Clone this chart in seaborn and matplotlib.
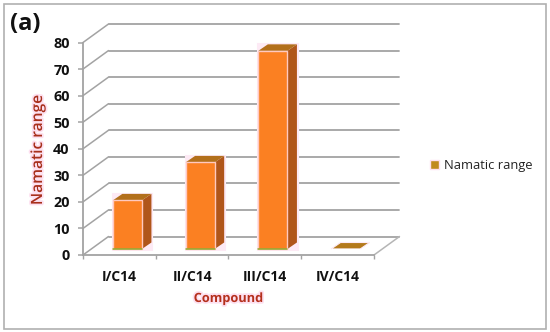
import matplotlib
matplotlib.use("Agg")
import matplotlib.pyplot as plt
import matplotlib.patheffects as pe
from matplotlib.patches import Patch, Polygon, Rectangle
from matplotlib.transforms import Affine2D
import seaborn as sns
import pandas as pd

categories = ["I/C14", "II/C14", "III/C14", "IV/C14"]
values = [18.3, 32.6, 74.6, 0]
y_ticks = [0, 10, 20, 30, 40, 50, 60, 70, 80]
series_name = "Namatic range"

W, H = 550, 332
sns.set_theme(style="white")
plt.rcParams["font.family"] = ["Open Sans", "DejaVu Sans"]

fig = plt.figure(figsize=(W / 100, H / 100), dpi=100, facecolor="white")
ax = fig.add_axes([83 / W, 1 - 255 / H, 291 / W, 212.5 / H])
ax.patch.set_alpha(0)

df = pd.DataFrame({"Compound": categories, series_name: values})
sns.barplot(data=df, x="Compound", y=series_name, color="#fb8022", saturation=1,
            width=0.4, ax=ax, zorder=4)
ax.set_xlim(-0.5, 3.5)
ax.set_ylim(0, 80)

GRID = "#a3a3a3"
wall = (25.5, 18.5)      # wall depth, px
plane = (8, 6)           # bars stand this far inside the floor, px
depth = (9.5, 6.5)       # depth of a bar, px
shift = lambda d: ax.transData + Affine2D().translate(*d)
px_x = 291 / 4
px_y = 212.5 / 80

# walls and floor
for t in y_ticks:
    ax.plot([-0.5, 3.5], [t, t], color=GRID, lw=1.3, transform=shift(wall), clip_on=False, zorder=1)
    ax.plot([-0.5, -0.5 + wall[0] / px_x], [t, t + wall[1] / px_y], color=GRID, lw=1.1,
            clip_on=False, zorder=1)
ax.plot([3.5, 3.5 + wall[0] / px_x], [0, wall[1] / px_y], color="#b5b5b5", lw=1.1,
        clip_on=False, zorder=1)

# bars: front face from seaborn, top and side faces derived from it
for bar in list(ax.patches):
    x0, w, h = bar.get_x(), bar.get_width(), bar.get_height()
    x1 = x0 + w
    ddx, ddy = depth[0] / px_x, depth[1] / px_y
    bar.set_transform(shift(plane))
    bar.set_clip_on(False)
    top_col = "#b2701b"
    if h > 0:
        bar.set_edgecolor("#ffc9c0")
        bar.set_linewidth(1.0)
        halo = Rectangle((x0, 0), w + ddx, h + ddy, transform=shift(plane), clip_on=False,
                         facecolor="#fdeaf5", edgecolor="#fdeaf5", lw=2.2, zorder=2)
        ax.add_patch(halo)
        side = Polygon([(x1, 0), (x1 + ddx, ddy), (x1 + ddx, h + ddy), (x1, h)],
                       closed=True, transform=shift(plane), clip_on=False,
                       facecolor="#b0561a", edgecolor="none", zorder=3)
        ax.add_patch(side)
        ax.plot([x0, x1], [0, 0], color="#8fa92e", lw=1.1, transform=shift(plane),
                clip_on=False, zorder=5)
    else:
        top_col = "#b47a1c"
    top = Polygon([(x0, h), (x1, h), (x1 + ddx, h + ddy), (x0 + ddx, h + ddy)],
                  closed=True, transform=shift(plane), clip_on=False,
                  facecolor=top_col, edgecolor="#fdeaf5" if h == 0 else "none",
                  lw=0.8, zorder=3)
    ax.add_patch(top)

# axes
for s in ["top", "right"]:
    ax.spines[s].set_visible(False)
for s in ["left", "bottom"]:
    ax.spines[s].set_color(GRID)
    ax.spines[s].set_linewidth(1.3)
    ax.spines[s].set_zorder(2)
ax.set_yticks(y_ticks)
ax.set_xticks([-0.5, 0.5, 1.5, 2.5, 3.5], minor=True)
ax.set_xticks(range(4))
ax.set_xticklabels(categories)
ax.tick_params(axis="x", which="major", length=0, pad=10.5, labelsize=10, labelcolor="#111111")
ax.tick_params(axis="x", which="minor", length=3.2, width=1, color=GRID, bottom=True)
ax.tick_params(axis="y", length=3.6, width=1.1, color=GRID, left=True, pad=6,
               labelsize=10.4, labelcolor="#111111")
for lab in ax.get_xticklabels() + ax.get_yticklabels():
    lab.set_fontweight("bold")

glow = [pe.withStroke(linewidth=2.5, foreground="#fde0f0")]
ax.set_xlabel("")
ax.set_ylabel("")
fig.text(38 / W, 1 - 150 / H, "Namatic range", rotation=90, ha="center", va="center",
         fontsize=11.2, fontweight="semibold", color="#a8301c", path_effects=glow)
fig.text(228.5 / W, 1 - 298.5 / H, "Compound", ha="center", va="center",
         fontsize=9.2, fontweight="bold", color="#b5301c", path_effects=glow)
fig.text(10 / W, 1 - 24 / H, "(a)", ha="left", va="center", fontsize=17,
         fontweight="bold", color="#111111")

leg = ax.legend(handles=[Patch(facecolor="#c08a20", edgecolor="#fde0f0", lw=1, label=series_name)],
                loc="center left", bbox_to_anchor=(429.5 / W, 1 - 165.5 / H),
                bbox_transform=fig.transFigure, frameon=False, fontsize=9.3,
                handlelength=0.75, handleheight=0.75, handletextpad=0.35,
                borderpad=0, borderaxespad=0)
leg.get_texts()[0].set_color("#222222")

fig.add_artist(Rectangle((3.5 / W, 1 - 328.5 / H), 542.5 / W, 325 / H, transform=fig.transFigure,
                         fill=False, edgecolor="#b0b0b0", lw=1.2))

fig.savefig("out.png", dpi=100)
